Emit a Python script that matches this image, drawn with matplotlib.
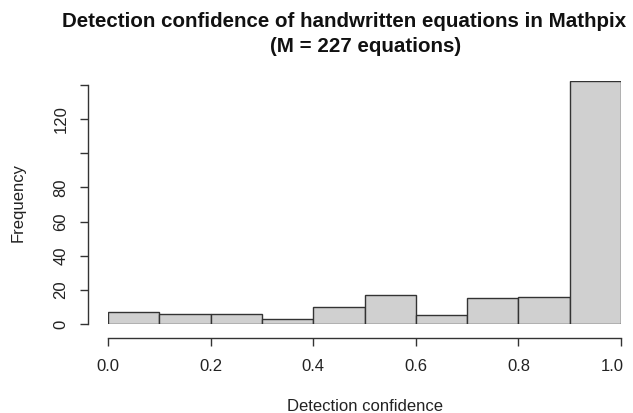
import numpy as np
import matplotlib.pyplot as plt
from matplotlib.transforms import ScaledTranslation

plt.rcParams['font.family'] = ['Liberation Sans', 'DejaVu Sans']

# histogram bins and counts
bin_edges = [0.0, 0.1, 0.2, 0.3, 0.4, 0.5, 0.6, 0.7, 0.8, 0.9, 1.0]
counts = [7, 6, 6, 3, 10, 17, 5, 15, 16, 142]
x_ticks = [0.0, 0.2, 0.4, 0.6, 0.8, 1.0]
x_labels = ["0.0", "0.2", "0.4", "0.6", "0.8", "1.0"]
y_ticks = [0, 20, 40, 60, 80, 100, 120, 140]
y_labels = ["0", "20", "40", "60", "80", "", "120", ""]

W, H = 633, 413
fig = plt.figure(figsize=(W / 100, H / 100), dpi=100)

# place axes in pixel terms: x 0->108px, 1->621px ; y 0->324px from top
ymax = 142
left, right = 108, 621
base = 324
ppu = 205 / 120
ax = fig.add_axes([left / W, (H - base) / H, (right - left) / W, ymax * ppu / H])

widths = np.diff(bin_edges)
ax.bar(bin_edges[:-1], counts, width=widths, align='edge',
       color='#d0d0d0', edgecolor='#333333', linewidth=1.0)

ax.set_xlim(0, 1)
ax.set_ylim(0, ymax)

for s in ['top', 'right']:
    ax.spines[s].set_visible(False)
ax.spines['left'].set_bounds(0, 140)
ax.spines['left'].set_position(('outward', 20 * 0.72))
ax.spines['bottom'].set_bounds(0, 1)
ax.spines['bottom'].set_position(('outward', 14 * 0.72))
for s in ['left', 'bottom']:
    ax.spines[s].set_color('#333333')
    ax.spines[s].set_linewidth(1.0)

ax.set_xticks(x_ticks)
ax.set_xticklabels(x_labels)
ax.set_yticks(y_ticks)
ax.set_yticklabels(y_labels, rotation=90, va='center')
ax.tick_params(axis='both', direction='out', length=6, width=1.0,
               color='#333333', labelsize=12, labelcolor='#222222')
ax.tick_params(axis='x', pad=9)
ax.tick_params(axis='y', pad=8)

# last x label sits a bit left of its tick in the original (kept inside the device)
lab = ax.get_xticklabels()[-1]
lab.set_transform(lab.get_transform() + ScaledTranslation(-0.09, 0, fig.dpi_scale_trans))

fig.text(344.5 / W, 1 - 27 / H, "Detection confidence of handwritten equations in Mathpix",
         ha='center', va='baseline', fontsize=14.8, fontweight='bold', color='#111111')
fig.text(366 / W, 1 - 52 / H, "(M = 227 equations)",
         ha='center', va='baseline', fontsize=14.8, fontweight='bold', color='#111111')
fig.text(365.5 / W, 1 - 411 / H, "Detection confidence",
         ha='center', va='baseline', fontsize=12, color='#222222')
fig.text(18 / W, 1 - 202 / H, "Frequency", ha='center', va='center',
         rotation=90, fontsize=12, color='#222222')

fig.savefig("out.png", dpi=100)
